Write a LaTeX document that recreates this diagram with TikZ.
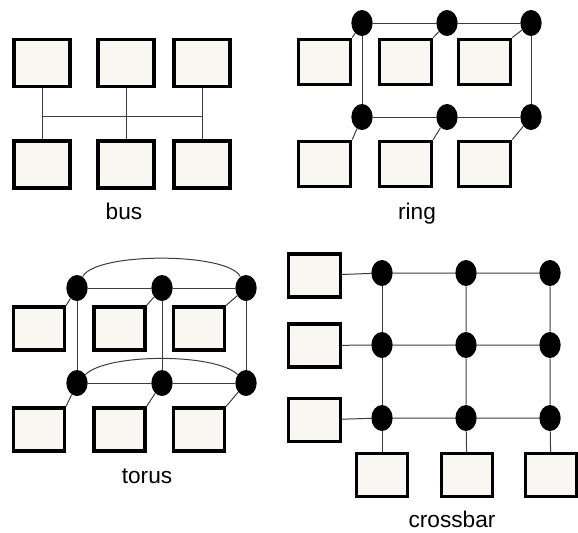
\documentclass[tikz,border=0pt]{standalone}
\usepackage{fontspec}
\setmainfont{Liberation Sans}
\usetikzlibrary{shapes.geometric}

\begin{document}
\begin{tikzpicture}[x=0.75pt,y=0.75pt,yscale=-1,xscale=1,
    pe/.style={draw=black,line width=2.6pt,fill={rgb,255:red,248;green,247;blue,242},minimum width=39pt,minimum height=34pt,inner sep=0pt},
    sw/.style={ellipse,fill=black,inner sep=0pt,minimum width=16pt,minimum height=19.5pt},
    link/.style={draw={rgb,255:red,60;green,60;blue,60},line width=0.75pt},
    lbl/.style={anchor=base,inner sep=0pt,font=\fontsize{17}{20}\selectfont}]
    %set diagram left start at 0, and has height of 532
    \useasboundingbox (0,0) rectangle (578,532);

    %Shape: Rectangle [bus, top row]
    \node[pe,minimum width=42pt,minimum height=35pt] (bt1) at (42,63) {};
    \node[pe,minimum width=42pt,minimum height=35pt] (bt2) at (126,63) {};
    \node[pe,minimum width=42pt,minimum height=35pt] (bt3) at (202,63) {};
    %Shape: Rectangle [bus, bottom row]
    \node[pe,minimum width=42pt,minimum height=35pt] (bb1) at (42,164.5) {};
    \node[pe,minimum width=42pt,minimum height=35pt] (bb2) at (126,164.5) {};
    \node[pe,minimum width=42pt,minimum height=35pt] (bb3) at (202,164.5) {};
    %Straight Lines [bus, heavy left edges]
    \foreach \b in {bt1,bt2,bt3,bb1,bb2} {
        \draw[line width=3.5pt] ([xshift=1.2pt]\b.north west) -- ([xshift=1.2pt]\b.south west);
    }
    %Straight Lines [bus]
    \coordinate (bus) at (42,116);
    \draw[link] (bt1) -- (bb1);
    \draw[link] (bt2) -- (bb2);
    \draw[link] (bt3) -- (bb3);
    \draw[link] (bus) -- (bus -| bt3);
    % Text Node
    \node[lbl] (tbus) at (124,219) {bus};

    %Shape: Ellipse [ring switches]
    \node[sw] (rn1) at (362,23) {};
    \node[sw] (rn2) at (447,23) {};
    \node[sw] (rn3) at (531,23) {};
    \node[sw] (rs1) at (362,117) {};
    \node[sw] (rs2) at (447,117) {};
    \node[sw] (rs3) at (531,117) {};
    %Shape: Rectangle [ring]
    \node[pe] (rt1) at (324.5,62) {};
    \node[pe] (rt2) at (405.5,62) {};
    \node[pe] (rt3) at (484.5,62) {};
    \node[pe] (rb1) at (324.5,164) {};
    \node[pe] (rb2) at (405.5,164) {};
    \node[pe] (rb3) at (484.5,164) {};
    %Straight Lines [ring]
    \draw[link] (rs1) -- (rn1) -- (rn2) -- (rn3) -- (rs3) -- (rs2) -- (rs1);
    \foreach \i in {1,2,3} {
        \draw[link] (rt\i.north east) -- (rn\i);
        \draw[link] (rb\i.north east) -- (rs\i);
    }
    % Text Node
    \node[lbl] (tring) at (417,219) {ring};

    %Shape: Ellipse [torus switches]
    \node[sw] (tn1) at (77,288) {};
    \node[sw] (tn2) at (162,288) {};
    \node[sw] (tn3) at (246,288) {};
    \node[sw] (ts1) at (77,383) {};
    \node[sw] (ts2) at (162,383) {};
    \node[sw] (ts3) at (246,383) {};
    %Shape: Rectangle [torus]
    \node[pe,minimum width=38pt,minimum height=32pt] (tt1) at (39,328.5) {};
    \node[pe,minimum width=38pt,minimum height=32pt] (tt2) at (119.5,328.5) {};
    \node[pe,minimum width=38pt,minimum height=32pt] (tt3) at (199,328.5) {};
    \node[pe,minimum width=38pt,minimum height=32pt] (tb1) at (39,429.5) {};
    \node[pe,minimum width=38pt,minimum height=32pt] (tb2) at (119.5,429.5) {};
    \node[pe,minimum width=38pt,minimum height=32pt] (tb3) at (199,429.5) {};
    %Straight Lines [torus]
    \draw[link] (tn1) -- (tn2) -- (tn3);
    \draw[link] (ts1) -- (ts2) -- (ts3);
    \foreach \i in {1,2,3} {
        \draw[link] (tn\i) -- (ts\i);
        \draw[link] (tt\i.north east) -- (tn\i);
        \draw[link] (tb\i.north east) -- (ts\i);
    }
    %Curve Lines [torus wrap]
    \draw[link] (tn1) .. controls +(18,-36) and +(-18,-36) .. (tn3);
    \draw[link] (ts1) .. controls +(30,-30) and +(-30,-30) .. (ts3);
    % Text Node
    \node[lbl] (ttorus) at (147,483) {torus};

    %Shape: Ellipse [crossbar switches]
    \foreach \j/\x in {1/382,2/466,3/550} {
        \node[sw] (c1\j) at (\x,273) {};
        \node[sw] (c2\j) at (\x,345) {};
        \node[sw] (c3\j) at (\x,418) {};
    }
    %Shape: Rectangle [crossbar]
    \node[pe,minimum height=32pt] (cl1) at (314.5,275.5) {};
    \node[pe,minimum height=32pt] (cl2) at (314.5,345.5) {};
    \node[pe,minimum height=32pt] (cl3) at (314.5,420) {};
    \node[pe,minimum width=38pt,minimum height=32pt] (cb1) at (382,475) {};
    \node[pe,minimum width=38pt,minimum height=32pt] (cb2) at (467,475) {};
    \node[pe,minimum width=38pt,minimum height=32pt] (cb3) at (551,475) {};
    %Straight Lines [crossbar]
    \foreach \i in {1,2,3} {
        \draw[link] (cl\i) -- (c\i1) -- (c\i2) -- (c\i3);
        \draw[link] (c1\i) -- (c2\i) -- (c3\i) -- (cb\i);
    }
    % Text Node
    \node[lbl] (tcross) at (452,527) {crossbar};
\end{tikzpicture}
\end{document}
